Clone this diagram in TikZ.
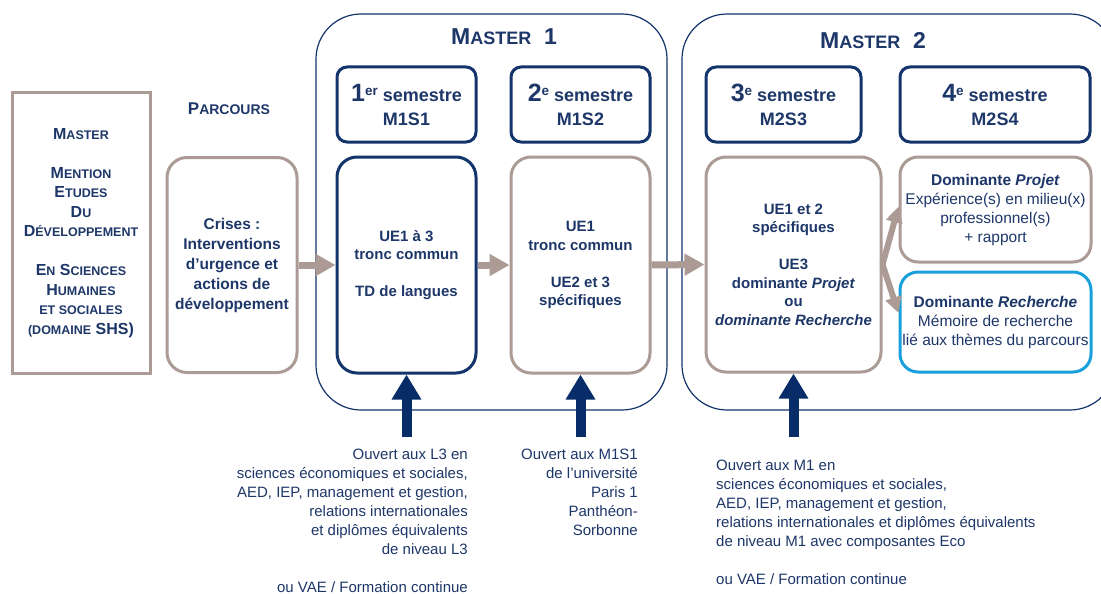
\documentclass[tikz,border=0pt]{standalone}
\usepackage{fontspec}
\setmainfont{Liberation Sans}
\usepackage{tikz}
\usetikzlibrary{arrows.meta}
\definecolor{navy}{RGB}{20, 52, 108}
\definecolor{ink}{RGB}{30, 55, 105}
\definecolor{taupe}{RGB}{172, 155, 148}
\definecolor{sky}{RGB}{25, 160, 220}
\definecolor{deepnavy}{RGB}{8, 44, 104}

\newcommand{\capsm}[2]{{\fontsize{#1}{#1}\selectfont #2}}
\newcommand{\semnum}[2]{{\fontsize{25}{25}\selectfont #1}\raisebox{6pt}{\fontsize{13.5}{13.5}\selectfont #2}}

\begin{document}
\begin{tikzpicture}[x=1pt, y=-1pt,
  txt/.style={text=ink, align=center, inner sep=0pt},
  head/.style={txt, draw=navy, line width=3pt, rounded corners=10pt, minimum height=75pt, font=\bfseries\fontsize{18}{24}\selectfont},
  body/.style={txt, line width=3pt, rounded corners=20pt, minimum height=216pt, font=\bfseries\fontsize{15}{18.5}\selectfont},
  frame/.style={draw=navy, line width=1.2pt, rounded corners=45pt},
  flow/.style={draw=taupe, line width=7pt, -{Triangle[length=20pt, width=21pt]}},
  fork/.style={draw=taupe, line width=6pt, -{Triangle[length=16pt, width=16pt]}},
  entry/.style={draw=deepnavy, line width=10pt, -{Triangle[length=25pt, width=28pt]}},
  note/.style={txt, font=\fontsize{15}{19}\selectfont}]
  \useasboundingbox (0,0) rectangle (1101,594);
  \fill [white] (0,0) rectangle (1101,594);

  % Mention
  \node [txt, draw=taupe, line width=3pt, minimum width=138pt, minimum height=280pt, font=\bfseries\fontsize{16}{19.5}\selectfont] (mention) at (81,233)
    {M\capsm{12.5}{ASTER}\\[19.5pt] M\capsm{12.5}{ENTION}\\ E\capsm{12.5}{TUDES}\\ D\capsm{12.5}{U}\\ D\capsm{12.5}{ÉVELOPPEMENT}\\[19.5pt] E\capsm{12.5}{N} S\capsm{12.5}{CIENCES}\\ H\capsm{12.5}{UMAINES}\\ \capsm{12.5}{ET SOCIALES}\\ \capsm{12.5}{(DOMAINE} SHS)};

  % Parcours
  \node [txt, font=\bfseries\fontsize{17}{17}\selectfont] (parcours) at (229,109) {P\capsm{14}{ARCOURS}};
  \node [body, draw=taupe, minimum width=130pt, minimum height=215pt, font=\bfseries\fontsize{15.5}{20}\selectfont] (crises) at (232,265)
    {Crises :\\ Interventions\\ d’urgence et\\ actions de\\ développement};

  % Master 1
  \draw [frame] (316,14) rectangle (667,410);
  \node [txt, font=\bfseries\fontsize{23}{23}\selectfont] (m1) at (504,37) {M\capsm{18}{ASTER}\ \ 1};
  \node [head, minimum width=139pt] (s1) at (406.5,104.5) {\semnum{1}{er} semestre\\ M1S1};
  \node [head, minimum width=139pt] (s2) at (580.5,104.5) {\semnum{2}{e} semestre\\ M1S2};
  \node [body, draw=navy, minimum width=139pt] (ue1) at (406.5,265) {UE1 à 3\\ tronc commun\\[18.5pt] TD de langues};
  \node [body, draw=taupe, minimum width=139pt] (ue2) at (580.5,265) {UE1\\ tronc commun\\[18.5pt] UE2 et 3\\ spécifiques};

  % Master 2
  \draw [frame] (682,14) rectangle (1115,410);
  \node [txt, font=\bfseries\fontsize{23}{23}\selectfont] (m2) at (873,41) {M\capsm{18}{ASTER}\ \ 2};
  \node [head, minimum width=155pt] (s3) at (783.5,104.5) {\semnum{3}{e} semestre\\ M2S3};
  \node [head, minimum width=190pt] (s4) at (995,104.5) {\semnum{4}{e} semestre\\ M2S4};
  \node [body, draw=taupe, minimum width=175pt, minimum height=215pt] (ue3) at (793.5,264.5)
    {UE1 et 2\\ spécifiques\\[18.5pt] UE3\\ dominante \textit{Projet}\\ ou\\ \textit{dominante Recherche}};
  \node [body, draw=taupe, rounded corners=18pt, minimum width=191pt, minimum height=105pt, font=\bfseries\fontsize{15.5}{19}\selectfont] (projet) at (995.5,209.5)
    {Dominante \textit{Projet}\\ \mdseries Expérience(s) en milieu(x)\\ \mdseries professionnel(s)\\ \mdseries + rapport};
  \node [body, draw=sky, rounded corners=18pt, minimum width=191pt, minimum height=100pt, font=\bfseries\fontsize{15.5}{19}\selectfont] (recherche) at (995.5,322)
    {Dominante \textit{Recherche}\\ \mdseries Mémoire de recherche\\ \mdseries lié aux thèmes du parcours};

  % Flow
  \draw [flow] (crises) -- (ue1);
  \draw [flow] (ue1) -- (ue2);
  \draw [flow] (ue2.east) -- (ue3.west);
  \draw [fork] (ue3.east) -- ([yshift=3pt]projet.west);
  \draw [fork] (ue3.east) -- ([yshift=9pt]recherche.west);

  % Entries
  \coordinate (in1) at (406.5,437);
  \coordinate (in2) at (580.5,437);
  \coordinate (in3) at (793.5,437);
  \draw [entry] (in1) -- (ue1.south);
  \draw [entry] (in2) -- (ue2.south);
  \draw [entry] (in3) -- (ue3.south);

  \node [note, anchor=north east, align=right] (n1) at (468,449)
    {Ouvert aux L3 en\\ sciences économiques et sociales,\\ AED, IEP, management et gestion,\\ relations internationales\\ et diplômes équivalents\\ de niveau L3\\[19pt] ou VAE / Formation continue};
  \node [note, anchor=north east, align=right] (n2) at (638,449)
    {Ouvert aux M1S1\\ de l’université\hspace*{8pt}\\ Paris 1\\ Panthéon-\\ Sorbonne};
  \node [note, anchor=north west, align=left] (n3) at (716,460)
    {Ouvert aux M1 en\\ sciences économiques et sociales,\\ AED, IEP, management et gestion,\\ relations internationales et diplômes équivalents\\ de niveau M1 avec composantes Eco\\[19pt] ou VAE / Formation continue};
\end{tikzpicture}
\end{document}
